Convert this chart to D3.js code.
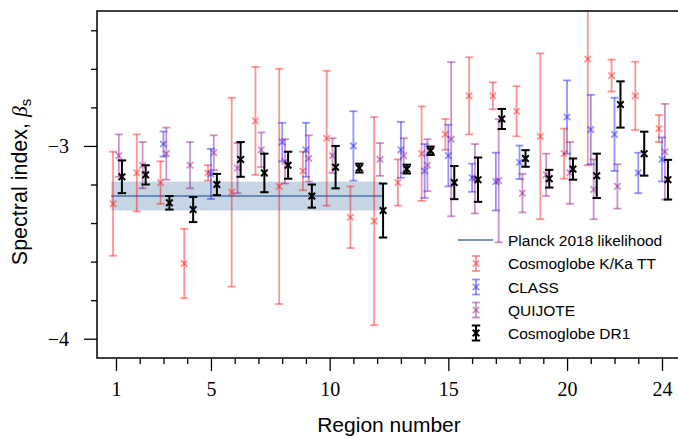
<!DOCTYPE html>
<html><head><meta charset="utf-8">
<script src="https://cdn.jsdelivr.net/npm/d3@7"></script>
<style>body{margin:0;background:#fff}svg{display:block}</style>
</head><body>
<script>
// ---------- data ----------
const regions = d3.range(1, 25);
const kkaVal = [-3.30,-3.14,-3.19,-3.61,-3.14,-3.24,-2.87,-3.21,-3.13,-2.96,-3.37,-3.39,-3.19,-3.04,-2.94,-2.74,-2.74,-2.82,-2.95,-3.04,-2.55,-2.635,-2.74,-2.91];
const kkaErr = [0.27,0.20,0.11,0.18,0.04,0.49,0.28,0.61,0.10,0.35,0.16,0.54,0.12,0.245,0.08,0.20,0.07,0.13,0.43,0.13,0.55,0.083,0.177,0.07];
const classVal = [null,null,-2.99,null,-3.145,null,null,-2.98,-3.02,null,-3.00,null,-3.02,-3.13,-3.05,-3.165,-3.185,-3.085,null,-2.85,-2.915,-2.94,-3.14,-3.07];
const classErr = [null,null,0.065,null,0.13,null,null,0.10,0.14,null,0.18,null,0.145,0.14,0.16,0.073,0.15,0.087,null,0.19,0.18,0.19,0.105,0.114];
const quijoteVal = [-3.05,-3.10,-3.04,-3.10,-3.035,-3.115,-3.02,-3.08,-3.065,-3.05,null,-3.07,-3.05,-3.10,-2.965,-3.17,-3.18,-3.245,-3.15,-3.14,-3.225,-3.21,null,-3.03];
const quijoteErr = [0.11,0.12,0.135,0.12,0.09,0.13,0.09,0.115,0.12,0.09,null,0.085,0.09,0.135,0.40,0.18,0.32,0.10,0.11,0.16,0.155,0.115,null,0.248];
const dr1Val = [-3.16,-3.15,-3.295,-3.33,-3.20,-3.07,-3.14,-3.10,-3.26,-3.11,-3.115,-3.335,-3.12,-3.025,-3.19,-3.175,-2.86,-3.065,-3.17,-3.12,-3.155,-2.785,-3.04,-3.175];
const dr1Err = [0.085,0.05,0.035,0.065,0.055,0.09,0.10,0.07,0.06,0.11,0.023,0.14,0.023,0.022,0.086,0.115,0.052,0.043,0.046,0.055,0.115,0.12,0.114,0.103];
const planckVal = -3.26, planckErr = 0.075, planckRange = [0.8, 12.2];
const xMajor = [1,5,10,15,20,24];
const yMajor = [-4,-3];
const yMinor = [-3.8,-3.6,-3.4,-3.2,-2.8,-2.6,-2.4];
const seriesNames = ["Planck 2018 likelihood","Cosmoglobe K/Ka TT","CLASS","QUIJOTE","Cosmoglobe DR1"];

// ---------- layout ----------
const W = 678, H = 439;
const L = 97, T = 11, R = 681, B = 358;
const x = d3.scaleLinear().domain([0.2, 24.8]).range([L, R]);
const y = d3.scaleLinear().domain([-4.1, -2.3]).range([B, T]);

const svg = d3.select("body").append("svg").attr("width", W).attr("height", H);
svg.append("defs").append("clipPath").attr("id","clip")
  .append("rect").attr("x", L).attr("y", T).attr("width", R-L).attr("height", B-T);
const plot = svg.append("g").attr("clip-path","url(#clip)");

// Planck band
plot.append("rect")
  .attr("x", x(planckRange[0])).attr("width", x(planckRange[1]) - x(planckRange[0]))
  .attr("y", y(planckVal + planckErr)).attr("height", y(planckVal - planckErr) - y(planckVal + planckErr))
  .attr("fill", "#c6d5e4");
plot.append("line")
  .attr("x1", x(planckRange[0])).attr("x2", x(planckRange[1]))
  .attr("y1", y(planckVal)).attr("y2", y(planckVal))
  .attr("stroke", "#4a72a6").attr("stroke-width", 1.6);

function drawErr(g, cx, cy, e, color, opacity, lw, cap, ms) {
  const top = y(cy + e), bot = y(cy - e), px = cx, py = y(cy);
  const s = g.append("g").attr("stroke", color).attr("stroke-opacity", opacity).attr("fill","none");
  s.append("line").attr("x1", px).attr("x2", px).attr("y1", top).attr("y2", bot).attr("stroke-width", lw);
  s.append("line").attr("x1", px-cap).attr("x2", px+cap).attr("y1", top).attr("y2", top).attr("stroke-width", lw);
  s.append("line").attr("x1", px-cap).attr("x2", px+cap).attr("y1", bot).attr("y2", bot).attr("stroke-width", lw);
  s.append("path").attr("d", `M${px-ms},${py-ms}L${px+ms},${py+ms}M${px-ms},${py+ms}L${px+ms},${py-ms}`)
    .attr("stroke-width", lw);
}

const series = [
  {val: kkaVal, err: kkaErr, color: "#ff0000", op: 0.42, off: -0.125, lw: 1.8, cap: 4, ms: 3.2},
  {val: classVal, err: classErr, color: "#0000ff", op: 0.42, off: 0.0, lw: 1.8, cap: 4, ms: 3.2},
  {val: quijoteVal, err: quijoteErr, color: "#800080", op: 0.42, off: 0.12, lw: 1.8, cap: 4, ms: 3.2},
  {val: dr1Val, err: dr1Err, color: "#000000", op: 1, off: 0.25, lw: 2, cap: 4.2, ms: 3.3}
];
series.forEach(sr => {
  regions.forEach((r, i) => {
    if (sr.val[i] == null) return;
    drawErr(plot, x(r + sr.off), sr.val[i], sr.err[i], sr.color, sr.op, sr.lw, sr.cap, sr.ms);
  });
});

// ---------- axes ----------
const serif = "'Liberation Serif','Times New Roman',serif";
const sans = "'Liberation Sans',Arial,Helvetica,sans-serif";
const xAx = svg.append("g").attr("transform", `translate(0,${B})`);
xAx.call(d3.axisBottom(x).tickValues(regions.filter(r => !xMajor.includes(r))).tickSize(6).tickFormat(""));
xAx.call(g => g.select(".domain").remove());
const xAx2 = svg.append("g").attr("transform", `translate(0,${B})`);
xAx2.call(d3.axisBottom(x).tickValues(xMajor).tickSize(13).tickPadding(11).tickFormat(d3.format("d")));
xAx2.call(g => g.select(".domain").remove());
xAx2.selectAll("text").attr("font-family", serif).attr("font-size", 20).attr("fill","#000");

const yAx = svg.append("g").attr("transform", `translate(${L},0)`);
yAx.call(d3.axisLeft(y).tickValues(yMinor).tickSize(6).tickFormat(""));
yAx.call(g => g.select(".domain").remove());
const yAx2 = svg.append("g").attr("transform", `translate(${L},0)`);
yAx2.call(d3.axisLeft(y).tickValues(yMajor).tickSize(13).tickPadding(15).tickFormat(d => "\u2212" + Math.abs(d)));
yAx2.call(g => g.select(".domain").remove());
yAx2.selectAll("text").attr("font-family", serif).attr("font-size", 20).attr("fill","#000");
svg.selectAll(".tick line").attr("stroke","#000").attr("stroke-width",1.3);

// frame
svg.append("path").attr("d", `M${R},${T}H${L}V${B}H${R}`).attr("fill","none")
  .attr("stroke","#000").attr("stroke-width",1.5);

// axis labels
svg.append("text").attr("x", 389).attr("y", 432).attr("text-anchor","middle")
  .attr("font-family", sans).attr("font-size", 21).text("Region number");
const yl = svg.append("text").attr("transform", `translate(27,${182}) rotate(-90)`).attr("text-anchor","middle")
  .attr("font-family", sans).attr("font-size", 21.5);
yl.append("tspan").text("Spectral index, ");
yl.append("tspan").attr("font-family", "'Liberation Serif',serif").attr("font-style","italic").text("β");
yl.append("tspan").attr("font-size", 15).attr("dy", 4).text("s");

// legend
const legY = [240, 263.5, 287, 310, 333];
const lg = svg.append("g");
lg.append("line").attr("x1", 458).attr("x2", 493).attr("y1", legY[0]).attr("y2", legY[0])
  .attr("stroke", "#4a72a6").attr("stroke-width", 1.6);
series.forEach((sr, k) => {
  const cy = legY[k+1];
  const s = lg.append("g").attr("stroke", sr.color).attr("stroke-opacity", sr.op).attr("fill","none").attr("stroke-width", sr.lw);
  const px = 476, h = 7.5, c = sr.cap, m = sr.ms;
  s.append("line").attr("x1",px).attr("x2",px).attr("y1",cy-h).attr("y2",cy+h);
  s.append("line").attr("x1",px-c).attr("x2",px+c).attr("y1",cy-h).attr("y2",cy-h);
  s.append("line").attr("x1",px-c).attr("x2",px+c).attr("y1",cy+h).attr("y2",cy+h);
  s.append("path").attr("d", `M${px-m},${cy-m}L${px+m},${cy+m}M${px-m},${cy+m}L${px+m},${cy-m}`);
});
seriesNames.forEach((n, k) => {
  lg.append("text").attr("x", 508).attr("y", legY[k]).attr("dy", "0.36em")
    .attr("font-family", sans).attr("font-size", 15.5).text(n);
});
</script>
</body></html>
